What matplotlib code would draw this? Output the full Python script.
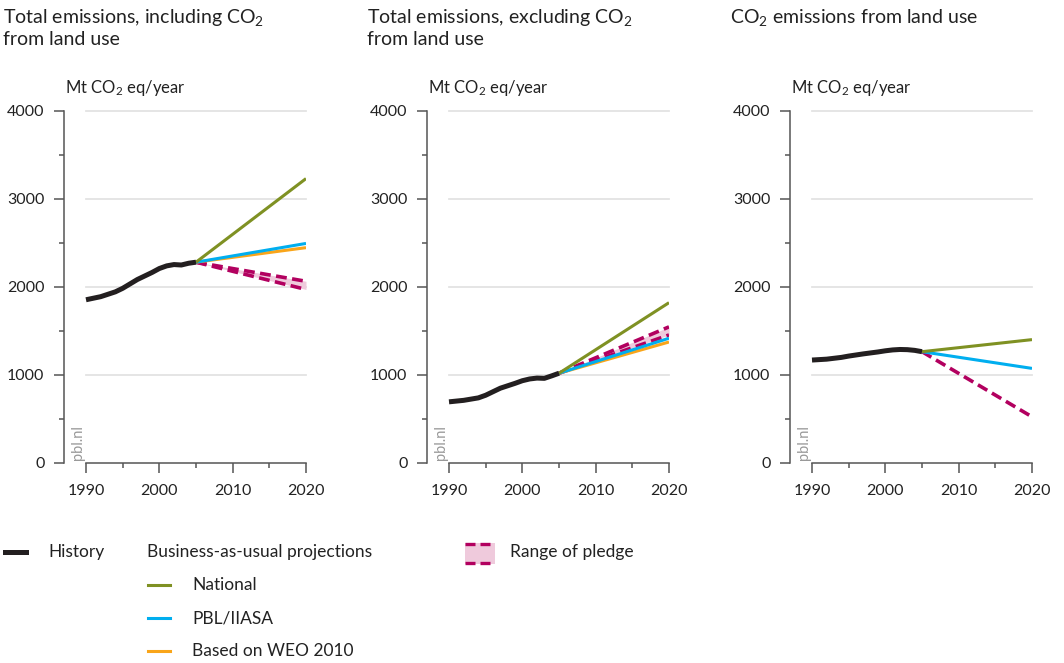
import matplotlib
matplotlib.use("Agg")
import matplotlib.pyplot as plt
from matplotlib.lines import Line2D
from matplotlib.patches import Rectangle

plt.rcParams['font.family'] = ['Lato', 'DejaVu Sans']
plt.rcParams['mathtext.fontset'] = 'custom'
plt.rcParams['mathtext.rm'] = 'Lato'
plt.rcParams['mathtext.it'] = 'Lato'

# ---------------- data ----------------
titles = ["Total emissions, including CO$_2$\nfrom land use",
          "Total emissions, excluding CO$_2$\nfrom land use",
          "CO$_2$ emissions from land use"]
unit_label = "Mt CO$_2$ eq/year"

hist_years = [1990, 1992, 1994, 1995, 1997, 1999, 2000, 2001, 2002, 2003, 2004, 2005]
hist_incl = [1855, 1890, 1945, 1985, 2085, 2165, 2210, 2240, 2255, 2250, 2270, 2282]
hist_excl = [695, 712, 740, 770, 850, 905, 935, 955, 965, 962, 990, 1020]
hist_land = [1170, 1180, 1200, 1215, 1240, 1262, 1275, 1285, 1290, 1288, 1280, 1265]

proj_years = [2005, 2020]
national = [[2282, 3232], [1020, 1822], [1265, 1402]]
pbl_iiasa = [[2282, 2495], [1020, 1418], [1265, 1075]]
weo2010 = [[2282, 2447], [1020, 1375], None]
pledge_high = [[2282, 2065], [1020, 1547], [1265, 525]]
pledge_low = [[2282, 1972], [1020, 1455], None]

y_ticks = [0, 1000, 2000, 3000, 4000]
x_ticks = [1990, 2000, 2010, 2020]

# ---------------- style ----------------
C_HIST = "#231f20"
C_NAT = "#7f9123"
C_PBL = "#00aeef"
C_WEO = "#f9a51a"
C_PLEDGE = "#b2005f"
C_FILL = "#efcadc"
C_AXIS = "#555555"
C_GRID = "#e3e3e3"
C_TEXT = "#222222"

W, H = 1064, 663
fig = plt.figure(figsize=(W / 100, H / 100), dpi=100)

lefts = [64, 427, 790]
title_x = [3, 367, 730]
ax_w = 242
ax_top, ax_bot = 111, 463

hists = [hist_incl, hist_excl, hist_land]

for i in range(3):
    ax = fig.add_axes([lefts[i] / W, (H - ax_bot) / H, ax_w / W, (ax_bot - ax_top) / H])
    ax.set_xlim(1987, 2020)
    ax.set_ylim(0, 4000)
    for s in ['top', 'right']:
        ax.spines[s].set_visible(False)
    ax.spines['left'].set_bounds(0, 4000)
    ax.spines['bottom'].set_bounds(1990, 2020)
    for s in ['left', 'bottom']:
        ax.spines[s].set_color(C_AXIS)
        ax.spines[s].set_linewidth(1.1)
    ax.set_yticks(y_ticks)
    ax.set_yticks([500, 1500, 2500, 3500], minor=True)
    ax.set_xticks(x_ticks)
    ax.set_xticks([1995, 2005, 2015], minor=True)
    ax.tick_params(axis='both', which='major', length=7, width=1.1, color=C_AXIS,
                   labelsize=11.5, labelcolor=C_TEXT)
    ax.tick_params(axis='both', which='minor', length=3.5, width=1.1, color=C_AXIS)
    ax.tick_params(axis='y', which='major', pad=7)
    ax.tick_params(axis='x', which='major', pad=8)
    ax.patch.set_visible(False)

    # gridlines
    for yv in y_ticks[1:]:
        ax.plot([1990, 2020], [yv, yv], color=C_GRID, lw=1.3, zorder=0, clip_on=False)

    # pledge range
    if pledge_low[i] is not None:
        ax.fill_between(proj_years, pledge_low[i], pledge_high[i], color=C_FILL, lw=0, zorder=1)
        ax.plot(proj_years, pledge_low[i], color=C_PLEDGE, lw=2.6, ls=(0, (3, 1.5)), zorder=2)
    ax.plot(proj_years, pledge_high[i], color=C_PLEDGE, lw=2.6, ls=(0, (3, 1.5)), zorder=2)

    if weo2010[i] is not None:
        ax.plot(proj_years, weo2010[i], color=C_WEO, lw=2.2, zorder=3, solid_capstyle='butt')
    ax.plot(proj_years, pbl_iiasa[i], color=C_PBL, lw=2.2, zorder=3, solid_capstyle='butt')
    ax.plot(proj_years, national[i], color=C_NAT, lw=2.2, zorder=4, solid_capstyle='butt')

    ax.plot(hist_years, hists[i], color=C_HIST, lw=3.6, zorder=5, solid_capstyle='butt',
            solid_joinstyle='round')

    ax.text(1988.0, 30, "pbl.nl", rotation=90, color="#999999", fontsize=10.5,
            ha='left', va='bottom')

    fig.text(title_x[i] / W, 1 - 7 / H, titles[i], fontsize=14,
             color=C_TEXT, ha='left', va='top', linespacing=1.2)
    fig.text((lefts[i] + 1) / W, 1 - 88 / H, unit_label, fontsize=12,
             color=C_TEXT, ha='left', va='center')

# ---------------- legend ----------------
def fy(y):
    return 1 - y / H

def fx(x):
    return x / W

fig.add_artist(Line2D([fx(5), fx(26)], [fy(552), fy(552)], color=C_HIST, lw=3.6))
fig.text(fx(48), fy(552), "History", fontsize=12.5, color=C_TEXT, va='center')
fig.text(fx(147), fy(552), "Business-as-usual projections", fontsize=12.5, color=C_TEXT, va='center')
for yy, col, lab in [(585, C_NAT, "National"), (618, C_PBL, "PBL/IIASA"), (651, C_WEO, "Based on WEO 2010")]:
    fig.add_artist(Line2D([fx(148), fx(170)], [fy(yy), fy(yy)], color=col, lw=2.2))
    fig.text(fx(192), fy(yy), lab, fontsize=12.5, color=C_TEXT, va='center')

fig.add_artist(Rectangle((fx(465), fy(564)), fx(30), fy(543) - fy(564), color=C_FILL, lw=0))
fig.add_artist(Line2D([fx(465), fx(495)], [fy(544), fy(544)], color=C_PLEDGE, lw=2.4, ls=(0, (3, 1.5))))
fig.add_artist(Line2D([fx(465), fx(495)], [fy(563), fy(563)], color=C_PLEDGE, lw=2.4, ls=(0, (3, 1.5))))
fig.text(fx(510), fy(552), "Range of pledge", fontsize=12.5, color=C_TEXT, va='center')

fig.savefig("out.png", dpi=100)
